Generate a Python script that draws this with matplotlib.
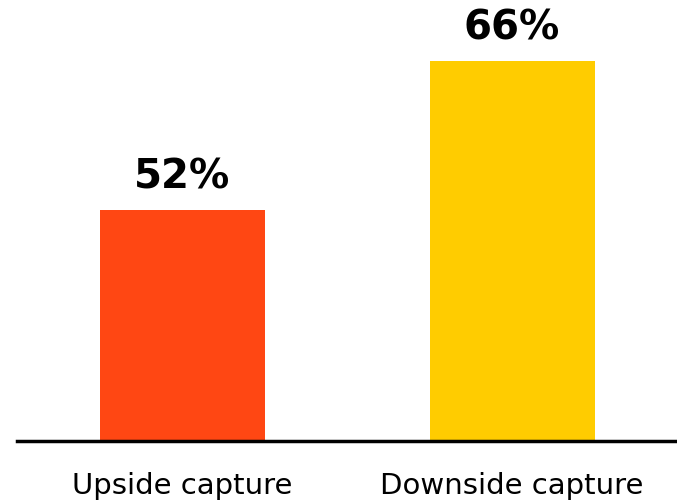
import matplotlib.pyplot as plt

categories = ["Upside capture", "Downside capture"]
values = [52, 66]
colors = ["#FF4713", "#FFCC00"]

fig = plt.figure(figsize=(6.77, 5.04), dpi=100)
ax = fig.add_axes([17 / 677, 63 / 504, 660 / 677, 441 / 504])

x = range(len(categories))
bars = ax.bar(x, values, width=0.5, color=colors)
for b, v in zip(bars, values):
    ax.annotate(f"{v}%", (b.get_x() + b.get_width() / 2, v), xytext=(0, 9),
                textcoords="offset points", ha="center", va="bottom",
                fontsize=29, fontweight="bold")

ax.set_xlim(-0.5, 1.5)
ax.set_ylim(30.3, 71.7)
ax.set_xticks(list(x))
ax.set_xticklabels(categories, fontsize=21)
ax.tick_params(axis="x", length=0, pad=22)
ax.set_yticks([])
for s in ["top", "right", "left"]:
    ax.spines[s].set_visible(False)
ax.spines["bottom"].set_linewidth(2.5)

fig.savefig("out.png", dpi=100)
